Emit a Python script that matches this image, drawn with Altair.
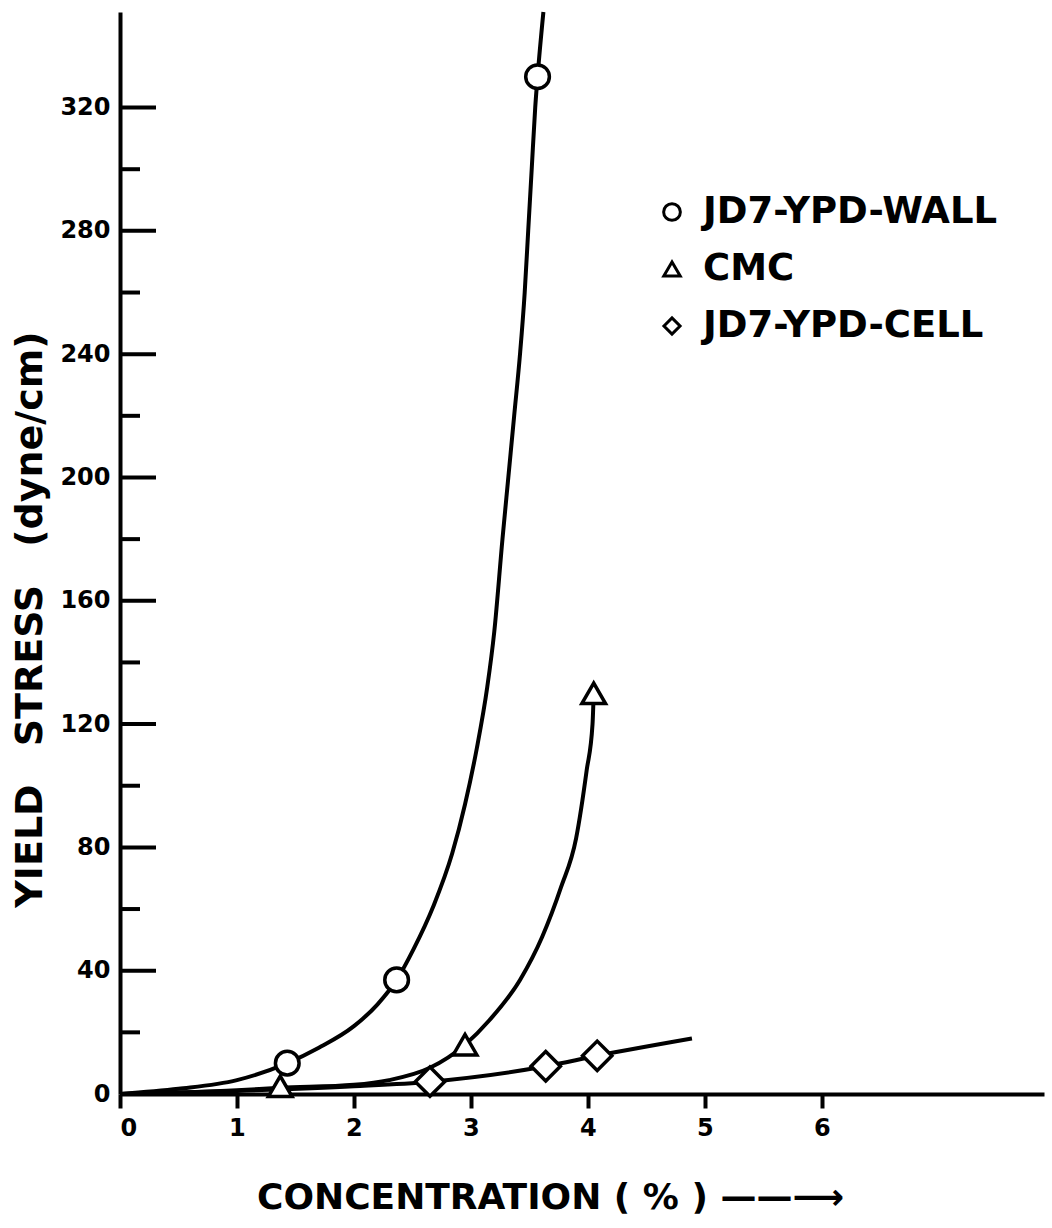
import altair as alt
import pandas as pd

# ---- data ----
series_names = ["JD7-YPD-WALL", "CMC", "JD7-YPD-CELL"]
series_shapes = ["circle", "triangle-up", "diamond"]

# measured points
wall_pts_x = [1.43, 2.365, 3.57]
wall_pts_y = [10, 37, 330]
cmc_pts_x = [1.37, 2.95, 4.05]
cmc_pts_y = [2.5, 16, 130]
cell_pts_x = [2.65, 3.64, 4.08]
cell_pts_y = [4, 9, 12.4]

# hand-drawn fitted curves
wall_curve_x = [0, 0.5, 1.0, 1.43, 1.7, 2.0, 2.2, 2.365, 2.51, 2.68, 2.84, 2.95, 3.05,
                3.14, 3.2, 3.27, 3.32, 3.37, 3.42, 3.46, 3.49, 3.52, 3.55, 3.57, 3.62]
wall_curve_y = [0, 1.7, 4.5, 10, 15, 22, 29, 37, 47, 61, 78, 94, 112,
                132, 150, 180, 200, 220, 240, 260, 280, 300, 320, 330, 351]
cmc_curve_x = [0, 1.0, 1.37, 2.0, 2.3, 2.65, 2.95, 3.16, 3.42, 3.61, 3.77, 3.9, 3.99, 4.04, 4.05]
cmc_curve_y = [0, 1.2, 2.0, 3.0, 4.5, 8.5, 16, 24, 37, 51, 67, 83, 105, 120, 130]
cell_curve_x = [0, 1.0, 2.0, 2.65, 3.64, 4.08, 4.89]
cell_curve_y = [0, 1.0, 2.5, 4, 9, 12.4, 18]

x_tick_values = [0, 1, 2, 3, 4, 5, 6]
y_label_values = [0, 40, 80, 120, 160, 200, 240, 280, 320]
y_major_ticks = [40, 80, 120, 160, 200, 240, 280, 320]
y_minor_ticks = [20, 60, 100, 140, 180, 220, 260, 300]

X_MAX = 7.9
Y_MAX = 351

EM = "\u2003"
y_title = "YIELD" + EM + "STRESS" + EM + "(dyne/cm)"
x_title = "CONCENTRATION ( % ) \u2014\u2014\u27F6"

# ---- tables ----
curves = pd.concat([
    pd.DataFrame({"x": wall_curve_x, "y": wall_curve_y, "series": series_names[0]}),
    pd.DataFrame({"x": cmc_curve_x, "y": cmc_curve_y, "series": series_names[1]}),
    pd.DataFrame({"x": cell_curve_x, "y": cell_curve_y, "series": series_names[2]}),
])
points = pd.concat([
    pd.DataFrame({"x": wall_pts_x, "y": wall_pts_y, "series": series_names[0]}),
    pd.DataFrame({"x": cmc_pts_x, "y": cmc_pts_y, "series": series_names[1]}),
    pd.DataFrame({"x": cell_pts_x, "y": cell_pts_y, "series": series_names[2]}),
])
legend_df = pd.DataFrame({"series": series_names})
major = pd.DataFrame({"y": y_major_ticks})
minor = pd.DataFrame({"y": y_minor_ticks})

FONT = "DejaVu Sans"

x_scale = alt.Scale(domain=[0, X_MAX], nice=False, zero=False)
y_scale = alt.Scale(domain=[0, Y_MAX], nice=False, zero=False)
shape_scale = alt.Scale(domain=series_names, range=series_shapes)
row_scale = alt.Scale(type="point", domain=series_names, range=[0, 114], padding=0)

x_axis = alt.Axis(
    values=x_tick_values, format="d", grid=False,
    domainColor="black", domainWidth=4,
    tickColor="black", tickWidth=4, tickSize=14,
    labelFont=FONT, labelFontSize=24, labelFontWeight="bold", labelColor="black",
    labelPadding=8,
    title=x_title, titleFont=FONT, titleFontSize=36,
    titleFontWeight="bold", titleColor="black",
    titleX=430, titleY=103, titleAnchor="middle", titleAlign="center",
    titleBaseline="middle",
)
y_axis = alt.Axis(
    values=y_label_values, format="d", grid=False,
    domainColor="black", domainWidth=4, ticks=False,
    labelFont=FONT, labelFontSize=24, labelFontWeight="bold", labelColor="black",
    labelPadding=10,
    title=y_title, titleFont=FONT, titleFontSize=38,
    titleFontWeight="bold", titleColor="black",
    titleX=-90, titleY=607, titleAlign="center", titleAngle=-90,
    titleBaseline="middle",
)

lines = alt.Chart(curves).mark_line(
    color="black", strokeWidth=4, interpolate="monotone"
).encode(
    x=alt.X("x:Q", scale=x_scale, axis=x_axis),
    y=alt.Y("y:Q", scale=y_scale, axis=y_axis),
    detail="series:N",
)

markers_small = alt.Chart(points).transform_filter(
    alt.FieldOneOfPredicate(field="series", oneOf=series_names[:2])
).mark_point(
    filled=True, fill="white", stroke="black", strokeWidth=3.5, size=560, opacity=1
).encode(
    x=alt.X("x:Q", scale=x_scale),
    y=alt.Y("y:Q", scale=y_scale),
    shape=alt.Shape("series:N", scale=shape_scale, legend=None),
)

markers_diamond = alt.Chart(points).transform_filter(
    alt.FieldEqualPredicate(field="series", equal=series_names[2])
).mark_point(
    filled=True, fill="white", stroke="black", strokeWidth=3.5, size=860, opacity=1
).encode(
    x=alt.X("x:Q", scale=x_scale),
    y=alt.Y("y:Q", scale=y_scale),
    shape=alt.Shape("series:N", scale=shape_scale, legend=None),
)

# legend drawn as marks (symbol + label per series)
legend_symbols = alt.Chart(legend_df).mark_point(
    filled=True, fill="white", stroke="black", strokeWidth=3, opacity=1
).encode(
    x=alt.value(552),
    y=alt.value(200),
    yOffset=alt.YOffset("series:N", scale=row_scale),
    shape=alt.Shape("series:N", scale=shape_scale, legend=None),
    size=alt.Size("series:N", scale=alt.Scale(domain=series_names, range=[280, 260, 560]),
                  legend=None),
)
legend_labels = alt.Chart(legend_df).mark_text(
    align="left", baseline="middle", font=FONT, fontSize=37, fontWeight="bold",
    color="black"
).encode(
    x=alt.value(583),
    y=alt.value(200),
    yOffset=alt.YOffset("series:N", scale=row_scale),
    text="series:N",
)

major_ticks = alt.Chart(major).mark_rule(color="black", strokeWidth=4).encode(
    y=alt.Y("y:Q", scale=y_scale), x=alt.value(0), x2=alt.value(36)
)
minor_ticks = alt.Chart(minor).mark_rule(color="black", strokeWidth=4).encode(
    y=alt.Y("y:Q", scale=y_scale), x=alt.value(0), x2=alt.value(20)
)

chart = alt.layer(
    minor_ticks, major_ticks, lines, markers_small, markers_diamond,
    legend_symbols, legend_labels
).properties(
    width=924, height=1082,
    padding={"left": 120, "top": 12, "right": 4, "bottom": 134},
    autosize=alt.AutoSizeParams(type="none"),
).configure(background="white").configure_view(stroke=None)

chart.save("out.html", embed_options={"renderer": "svg", "actions": False})
